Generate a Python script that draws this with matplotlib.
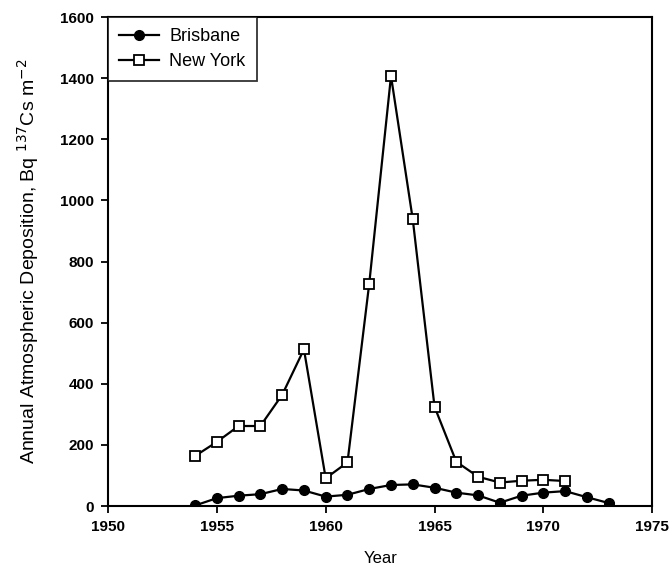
import matplotlib
matplotlib.use("Agg")
import matplotlib.pyplot as plt

plt.rcParams['font.family'] = ['Liberation Sans', 'DejaVu Sans']

# data
years_bris = [1954, 1955, 1956, 1957, 1958, 1959, 1960, 1961, 1962, 1963,
              1964, 1965, 1966, 1967, 1968, 1969, 1970, 1971, 1972, 1973]
brisbane = [2, 26, 34, 39, 56, 51, 31, 37, 56, 69,
            71, 60, 44, 35, 11, 34, 44, 49, 29, 10]

years_ny = [1954, 1955, 1956, 1957, 1958, 1959, 1960, 1961, 1962, 1963,
            1964, 1965, 1966, 1967, 1968, 1969, 1970, 1971]
new_york = [164, 210, 262, 262, 364, 513, 91, 143, 728, 1407,
            938, 325, 145, 96, 77, 83, 86, 82]

x_ticks = [1950, 1955, 1960, 1965, 1970, 1975]
y_ticks = [0, 200, 400, 600, 800, 1000, 1200, 1400, 1600]

fig = plt.figure(figsize=(6.71, 5.68), dpi=100)
ax = fig.add_axes([0.161, 0.109, 0.811, 0.861])

ax.plot(years_bris, brisbane, color='black', lw=1.6, marker='o', ms=7,
        mfc='black', mec='black', label='Brisbane', zorder=3)
ax.plot(years_ny, new_york, color='black', lw=1.6, marker='s', ms=6.5,
        mfc='white', mec='black', mew=1.3, label='New York', zorder=3)

ax.set_xlim(1950, 1975)
ax.set_ylim(0, 1600)
ax.set_xticks(x_ticks)
ax.set_yticks(y_ticks)
for s in ax.spines.values():
    s.set_linewidth(1.5)
ax.tick_params(direction='out', length=5, width=1.3, labelsize=11, pad=5)
for lab in ax.get_xticklabels() + ax.get_yticklabels():
    lab.set_fontweight('bold')

ax.set_xlabel('Year', fontsize=12, labelpad=12)
ax.set_ylabel('Annual Atmospheric Deposition, Bq $^{137}$Cs m$^{-2}$', fontsize=14, labelpad=14)

leg = ax.legend(loc='upper left', fontsize=13, frameon=True, fancybox=False,
                edgecolor='black', borderaxespad=0, handlelength=2.2,
                borderpad=0.6, labelspacing=0.45, handletextpad=0.6)
leg.get_frame().set_linewidth(1.3)

fig.savefig('out.png', dpi=100)
